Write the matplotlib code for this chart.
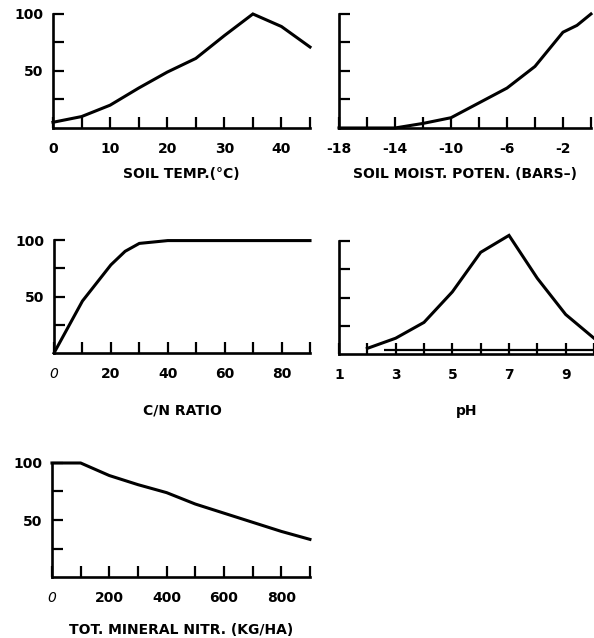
import matplotlib.pyplot as plt

# soil temperature (°C)
temp = [0, 5, 10, 15, 20, 25, 30, 35, 40, 45]
temp_rel = [5, 10, 20, 35, 49, 61, 81, 100, 89, 71]

# soil moisture potential (bars)
moist = [-18, -14, -12, -10, -8, -6, -4, -2, -1, 0]
moist_rel = [0, 0, 4, 9, 22, 35, 54, 84, 90, 100]

# C/N ratio
cn = [0, 10, 20, 25, 30, 40, 90]
cn_rel = [0, 46, 78, 90, 97, 99.5, 99.5]

# pH
ph = [2, 3, 4, 5, 6, 7, 8, 9, 10]
ph_rel = [5, 14, 28, 55, 90, 105, 67, 35, 14]

# total mineral nitrogen (kg/ha)
nitr = [0, 100, 200, 300, 400, 500, 600, 700, 800, 900]
nitr_rel = [100, 100, 89, 81, 74, 64, 56, 48, 40, 33]

FONT = dict(family='DejaVu Sans', weight='bold', size=10)
LW = 2.2


def panel(rect, x, y, xlim, major, minor, labels, xlabel, labelpad, italic0=False):
    ax = fig.add_axes(rect)
    ax.plot(x, y, color='black', lw=LW, clip_on=False, solid_joinstyle='miter')
    ax.set_xlim(*xlim)
    ax.set_ylim(0, 100)
    for s in ('top', 'right'):
        ax.spines[s].set_visible(False)
    for s in ('left', 'bottom'):
        ax.spines[s].set_linewidth(1.9)
    ax.set_xticks(major)
    ax.set_xticks(minor, minor=True)
    ax.set_xticklabels(labels, fontdict=FONT)
    if italic0:
        ax.get_xticklabels()[0].set_style('italic')
        ax.get_xticklabels()[0].set_weight('normal')
    ax.set_yticks([25, 50, 75, 100])
    ax.tick_params(axis='both', which='both', direction='in', length=8,
                   width=1.6, pad=10, colors='black')
    ax.tick_params(axis='y', pad=7)
    ax.set_xlabel(xlabel, fontdict=FONT, labelpad=labelpad)
    ax.patch.set_alpha(0)
    return ax


fig = plt.figure(figsize=(5.94, 6.38), dpi=100)

ax1 = panel([0.0892, 0.7994, 0.4327, 0.1787], temp, temp_rel, (0, 45),
            [0, 10, 20, 30, 40], [5, 15, 25, 35, 45],
            ['0', '10', '20', '30', '40'], 'SOIL TEMP.(°C)', 8)
ax1.set_yticklabels(['', '50', '', '100'], fontdict=FONT)

ax2 = panel([0.5707, 0.7994, 0.4242, 0.1787], moist, moist_rel, (-18, 0),
            [-18, -14, -10, -6, -2], [-16, -12, -8, -4, 0],
            ['-18', '-14', '-10', '-6', '-2'], 'SOIL MOIST. POTEN. (BARS–)', 8)
ax2.set_yticklabels([])

ax3 = panel([0.0909, 0.4467, 0.4310, 0.1771], cn, cn_rel, (0, 90),
            [0, 20, 40, 60, 80], [10, 30, 50, 70, 90],
            ['0', '20', '40', '60', '80'], 'C/N RATIO', 16, italic0=True)
ax3.set_yticklabels(['', '50', '', '100'], fontdict=FONT)

ax4 = panel([0.5707, 0.4451, 0.4293, 0.1771], ph, ph_rel, (1, 10),
            [1, 3, 5, 7, 9], [2, 4, 6, 8, 10],
            ['1', '3', '5', '7', '9'], 'pH', 16)
ax4.set_yticklabels([])
ax4.hlines(4, 2.6, 10, color='black', lw=1.6, clip_on=False)

ax5 = panel([0.0875, 0.0956, 0.4343, 0.1787], nitr, nitr_rel, (0, 900),
            [0, 200, 400, 600, 800], [100, 300, 500, 700, 900],
            ['0', '200', '400', '600', '800'], 'TOT. MINERAL NITR. (KG/HA)', 13,
            italic0=True)
ax5.set_yticklabels(['', '50', '', '100'], fontdict=FONT)

fig.savefig('out.png', dpi=100)
